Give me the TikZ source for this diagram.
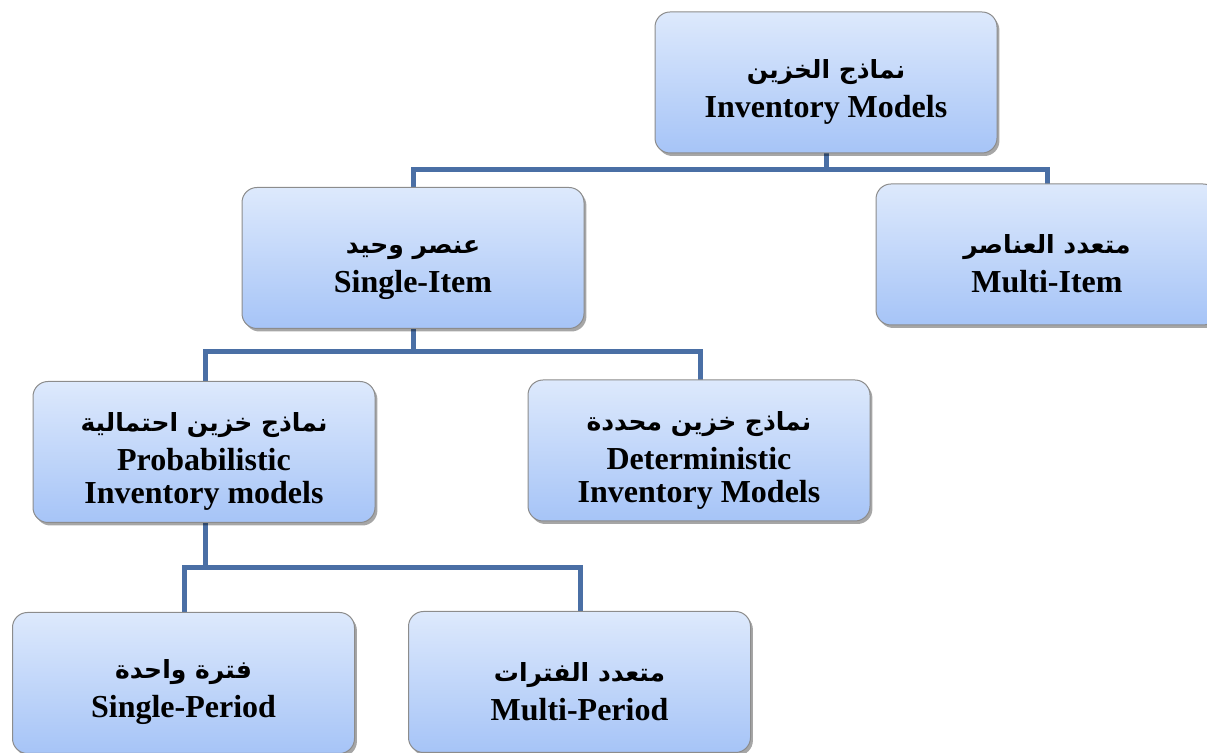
\documentclass[tikz,border=0pt]{standalone}
\usepackage{fontspec}
\setmainfont{Liberation Serif}
\newfontfamily\arabicfont[Script=Arabic]{DejaVu Sans}
\TeXXeTstate=1
\usetikzlibrary{
    shadows,
    calc
}
\definecolor{boxtop}{HTML}{DDE9FC}
\definecolor{boxbottom}{HTML}{A6C4F7}
\definecolor{boxline}{HTML}{8C8C8C}
\definecolor{linkblue}{HTML}{4A6FA5}
\newcommand{\ar}[1]{\rule{0pt}{19pt}{\arabicfont\fontsize{12.5}{16.5}\selectfont\beginR #1\endR}\\[3pt]}
\tikzset {
    model/.style = {
        rectangle, rounded corners = 7.5pt,
        draw = boxline, line width = 0.5pt,
        top color = boxtop, bottom color = boxbottom,
        minimum width = 171pt, minimum height = 70.5pt,
        inner sep = 0pt, align = center,
        font = \bfseries\fontsize{16}{16.5}\selectfont,
        drop shadow = {shadow xshift = 1.2pt, shadow yshift = -1.5pt,
            fill = black, opacity = 0.35}
    },
    link/.style = {draw = linkblue, line width = 2.5pt}
}
\begin{document}
\begin{tikzpicture}[x = 0.5pt, y = -0.5pt]
            \useasboundingbox (0, 0) rectangle (1207, 753);
            \clip (0, 0) rectangle (1207, 753);
            % connectors first, boxes on top
            \coordinate (inv s)    at (826, 153);
            \coordinate (single s) at (413, 329);
            \coordinate (prob s)   at (205, 523);
            \draw [link] (inv s) -- ++(0, 17) -| (413, 190);
            \draw [link] (inv s) -- ++(0, 17) -| (1047, 190);
            \draw [link] (single s) -- ++(0, 23) -| (205, 385);
            \draw [link] (single s) -- ++(0, 23) -| (700, 385);
            \draw [link] (prob s) -- ++(0, 45) -| (184, 615);
            \draw [link] (prob s) -- ++(0, 45) -| (580, 615);
            \node (inv)    [model] at (826, 82.5)   {\ar{نماذج الخزين}Inventory Models};
            \node (single) [model] at (413, 258)    {\ar{عنصر وحيد}Single-Item};
            \node (multi)  [model] at (1047, 254.5) {\ar{متعدد العناصر}Multi-Item};
            \node (prob)   [model] at (204, 452)    {\ar{نماذج خزين احتمالية}Probabilistic\\Inventory models};
            \node (det)    [model] at (699, 450.5)  {\ar{نماذج خزين محددة}Deterministic\\Inventory Models};
            \node (sper)   [model] at (183.5, 683)  {\ar{فترة واحدة}Single-Period};
            \node (mper)   [model] at (579.5, 682)  {\ar{متعدد الفترات}Multi-Period};
        \end{tikzpicture}
\end{document}
